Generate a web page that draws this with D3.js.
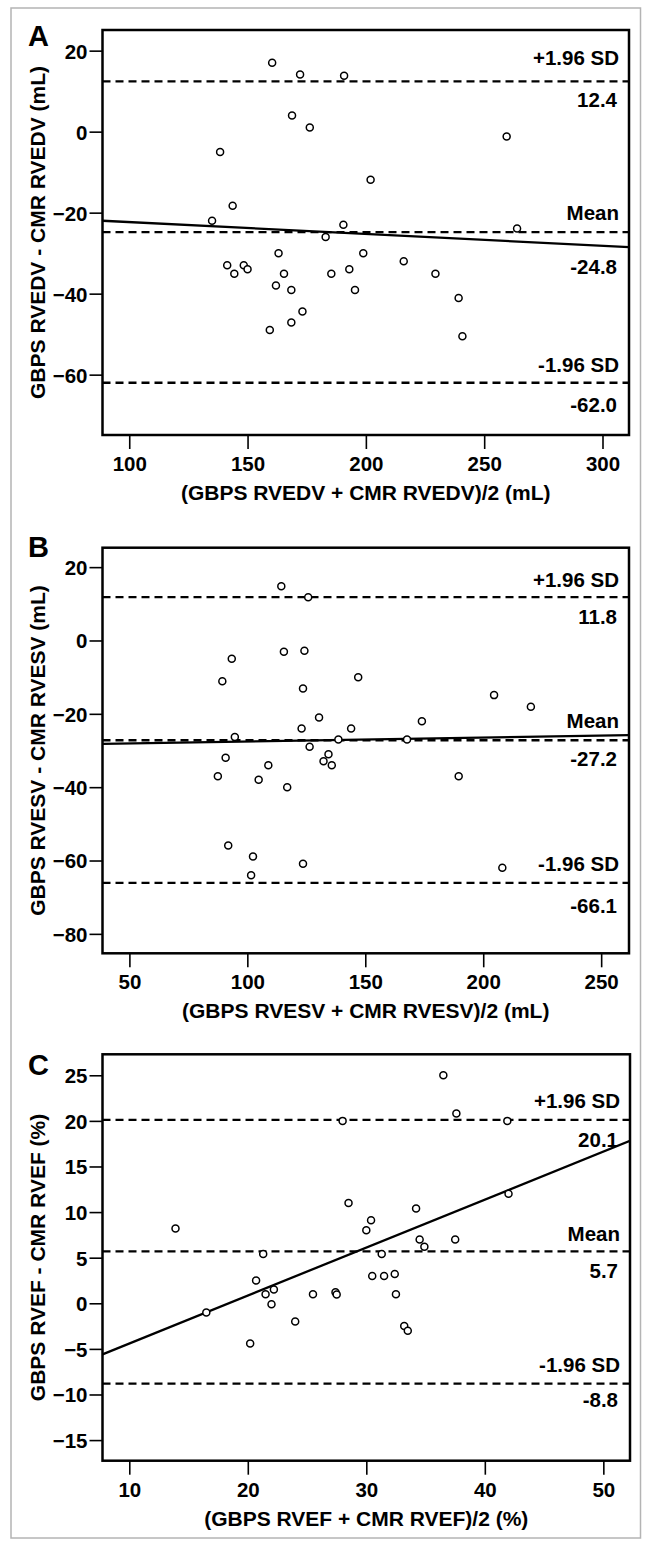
<!DOCTYPE html>
<html><head><meta charset="utf-8">
<script src="https://cdn.jsdelivr.net/npm/d3@7"></script>
<style>
html,body{margin:0;padding:0;background:#fff;}
svg text{font-family:"Liberation Sans",Arial,Helvetica,sans-serif;font-weight:bold;fill:#000;}
</style></head>
<body>
<script>
// ---------- DATA ----------
const panelLetters = ["A", "B", "C"];
const xTitles = ["(GBPS RVEDV + CMR RVEDV)/2 (mL)", "(GBPS RVESV + CMR RVESV)/2 (mL)", "(GBPS RVEF + CMR RVEF)/2 (%)"];
const yTitles = ["GBPS RVEDV - CMR RVEDV (mL)", "GBPS RVESV - CMR RVESV (mL)", "GBPS RVEF - CMR RVEF (%)"];
const limitLabels = ["+1.96 SD", "Mean", "-1.96 SD"];

const aXDomain = [88.7, 311.2], aYDomain = [-74.9, 25.1];
const aXTicks = [100, 150, 200, 250, 300], aYTicks = [20, 0, -20, -40, -60];
const aLimits = [12.4, -24.8, -62.0];
const aFit = [-19.4, -0.0293]; // intercept, slope
const aX = [160.4,172.2,190.8,168.8,176.3,259.5,138.4,202.0,143.7,135.0,190.5,263.9,183.0,163.1,198.9,216.0,141.4,148.4,144.4,150.0,165.4,185.4,193.0,229.4,162.0,168.5,195.4,239.2,173.2,168.5,159.4,240.8];
const aY = [17.0,14.1,13.8,4.0,1.0,-1.2,-5.0,-11.9,-18.3,-22.0,-23.0,-23.9,-26.0,-30.0,-30.0,-32.0,-33.0,-33.0,-35.1,-34.0,-35.1,-35.1,-34.0,-35.1,-38.0,-39.1,-39.1,-41.1,-44.4,-47.1,-49.0,-50.5];

const bXDomain = [38.6, 261.8], bYDomain = [-85.3, 25.3];
const bXTicks = [50, 100, 150, 200, 250], bYTicks = [20, 0, -20, -40, -60, -80];
const bLimits = [11.8, -27.2, -66.1];
const bFit = [-28.6, 0.01075];
const bX = [114.4,125.8,93.4,115.5,124.2,89.4,147.0,123.6,204.6,220.2,130.4,174.0,123.0,144.0,94.7,138.6,167.7,126.4,90.8,134.4,132.3,135.8,108.9,87.5,189.6,104.8,116.9,91.9,102.4,123.6,208.1,101.6];
const bY = [14.8,11.8,-5.0,-3.1,-2.8,-11.1,-10.0,-13.1,-14.9,-18.1,-21.0,-22.0,-24.0,-24.0,-26.3,-27.0,-27.0,-29.0,-32.0,-31.0,-32.9,-34.0,-34.0,-37.0,-37.0,-38.0,-40.0,-55.9,-58.9,-60.9,-62.0,-64.0];

const cXDomain = [7.74, 52.25], cYDomain = [-17.26, 27.3];
const cXTicks = [10, 20, 30, 40, 50], cYTicks = [25, 20, 15, 10, 5, 0, -5, -10, -15];
const cLimits = [20.1, 5.7, -8.8];
const cFit = [-9.67, 0.526];
const cX = [36.5,37.6,28.0,41.9,42.0,28.5,34.2,30.4,30.0,13.9,34.5,37.5,34.9,21.3,31.3,30.5,31.5,32.4,20.7,21.5,22.2,25.5,27.4,27.5,32.5,22.0,16.5,24.0,33.2,33.5,20.2];
const cY = [25.0,20.8,20.0,20.0,12.0,11.0,10.4,9.1,8.0,8.2,7.0,7.0,6.2,5.4,5.4,3.0,3.0,3.2,2.5,1.0,1.5,1.0,1.2,0.95,1.0,-0.1,-1.0,-2.0,-2.5,-3.0,-4.4];

// ---------- LAYOUT ----------
const W = 648, H = 1544;
const svg = d3.select("body").append("svg").attr("width", W).attr("height", H);
svg.append("rect").attr("x", 11).attr("y", 8).attr("width", 629.5).attr("height", 1530)
  .attr("fill", "none").attr("stroke", "#b4b4b4").attr("stroke-width", 1.5);

const panels = [
  {box: [102.5, 629, 30, 435], xd: aXDomain, yd: aYDomain, xt: aXTicks, yt: aYTicks, lim: aLimits, fit: aFit, xs: aX, ys: aY,
   letterY: 46, labOff: [[-16, 26], [-12, 42], [-11, 29]]},
  {box: [102.5, 629, 547.7, 953.3], xd: bXDomain, yd: bYDomain, xt: bXTicks, yt: bYTicks, lim: bLimits, fit: bFit, xs: bX, ys: bY,
   letterY: 557, labOff: [[-10, 27], [-12, 26], [-12, 30]]},
  {box: [102.5, 630, 1054.3, 1460.7], xd: cXDomain, yd: cYDomain, xt: cXTicks, yt: cYTicks, lim: cLimits, fit: cFit, xs: cX, ys: cY,
   letterY: 1075, labOff: [[-12, 27], [-10, 27], [-12, 23]]}
];

panels.forEach((p, i) => {
  const [L, R, T, B] = p.box;
  const x = d3.scaleLinear().domain(p.xd).range([L, R]);
  const y = d3.scaleLinear().domain(p.yd).range([B, T]);
  const g = svg.append("g");
  const clipId = "clip" + i;
  svg.append("clipPath").attr("id", clipId).append("rect")
    .attr("x", L).attr("y", T).attr("width", R - L).attr("height", B - T);

  // axes
  const xa = g.append("g").attr("transform", `translate(0,${B})`)
    .call(d3.axisBottom(x).tickValues(p.xt).tickSize(14).tickFormat(d3.format("d")));
  xa.select(".domain").remove();
  xa.selectAll(".tick line").attr("stroke", "#000").attr("stroke-width", 1.6);
  xa.selectAll(".tick text").attr("y", 36).attr("dy", 0).attr("font-size", 20.5);

  const ya = g.append("g").attr("transform", `translate(${L},0)`)
    .call(d3.axisLeft(y).tickValues(p.yt).tickSize(13).tickPadding(2).tickFormat(d3.format("d")));
  ya.select(".domain").remove();
  ya.selectAll(".tick line").attr("stroke", "#000").attr("stroke-width", 1.6);
  ya.selectAll(".tick text").attr("font-size", 20.5).attr("dy", "0.36em");

  const inner = g.append("g").attr("clip-path", `url(#${clipId})`);
  // limit lines
  inner.selectAll("line.lim").data(p.lim).enter().append("line")
    .attr("x1", L).attr("x2", R).attr("y1", d => y(d)).attr("y2", d => y(d))
    .attr("stroke", "#000").attr("stroke-width", 2.3).attr("stroke-dasharray", "8,5");
  // regression line
  inner.append("line")
    .attr("x1", x(p.xd[0])).attr("y1", y(p.fit[0] + p.fit[1] * p.xd[0]))
    .attr("x2", x(p.xd[1])).attr("y2", y(p.fit[0] + p.fit[1] * p.xd[1]))
    .attr("stroke", "#000").attr("stroke-width", 2.3);
  // points
  inner.selectAll("circle").data(p.xs.map((v, k) => [v, p.ys[k]])).enter().append("circle")
    .attr("cx", d => x(d[0])).attr("cy", d => y(d[1])).attr("r", 3.5)
    .attr("fill", "#fff").attr("stroke", "#000").attr("stroke-width", 1.5);

  // limit labels
  p.lim.forEach((v, k) => {
    g.append("text").attr("x", R - 10).attr("y", y(v) + p.labOff[k][0])
      .attr("text-anchor", "end").attr("font-size", 20.5).text(limitLabels[k]);
    g.append("text").attr("x", R - 12).attr("y", y(v) + p.labOff[k][1])
      .attr("text-anchor", "end").attr("font-size", 20.5).text(v.toFixed(1));
  });

  // frame
  g.append("rect").attr("x", L).attr("y", T).attr("width", R - L).attr("height", B - T)
    .attr("fill", "none").attr("stroke", "#000").attr("stroke-width", 2.5);

  // titles
  g.append("text").attr("x", (L + R) / 2).attr("y", B + 65).attr("text-anchor", "middle")
    .attr("font-size", 21).text(xTitles[i]);
  g.append("text").attr("transform", `translate(45,${(T + B) / 2}) rotate(-90)`)
    .attr("text-anchor", "middle").attr("font-size", 21).text(yTitles[i]);
  g.append("text").attr("x", 28).attr("y", p.letterY).attr("font-size", 29).text(panelLetters[i]);
});
</script>
</body></html>
